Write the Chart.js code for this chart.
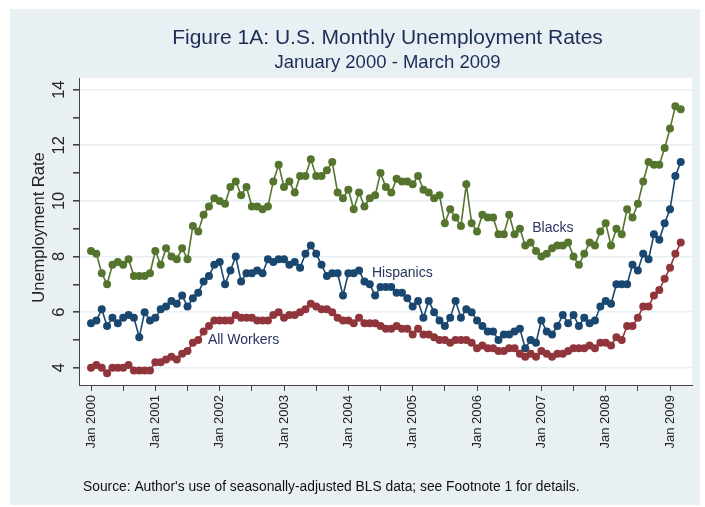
<!DOCTYPE html>
<html>
<head>
<meta charset="utf-8">
<title>Figure 1A</title>
<script src="https://cdn.jsdelivr.net/npm/chart.js@4.4.0/dist/chart.umd.min.js"></script>
<style>
  html, body { margin: 0; padding: 0; background: #ffffff; }
  #myChart { display: block; }
</style>
</head>
<body>
<canvas id="myChart" width="705" height="507"></canvas>
<script>
// dados mensais, jan 2000 ate mar 2009 (111 meses)
const blacks = [
  8.2, 8.1, 7.4, 7.0, 7.7, 7.8, 7.7, 7.9, 7.3, 7.3, 7.3, 7.4,
  8.2, 7.7, 8.3, 8.0, 7.9, 8.3, 7.9, 9.1, 8.9, 9.5, 9.8, 10.1,
  10.0, 9.9, 10.5, 10.7, 10.2, 10.5, 9.8, 9.8, 9.7, 9.8, 10.7, 11.3,
  10.5, 10.7, 10.3, 10.9, 10.9, 11.5, 10.9, 10.9, 11.1, 11.4, 10.3, 10.1,
  10.4, 9.7, 10.3, 9.8, 10.1, 10.2, 11.0, 10.5, 10.3, 10.8, 10.7, 10.7,
  10.6, 10.9, 10.4, 10.3, 10.1, 10.2, 9.2, 9.7, 9.4, 9.1, 10.6, 9.2,
  8.9, 9.5, 9.4, 9.4, 8.8, 8.8, 9.5, 8.8, 9.0, 8.4, 8.5, 8.2,
  8.0, 8.1, 8.3, 8.4, 8.4, 8.5, 8.0, 7.7, 8.1, 8.5, 8.4, 8.9,
  9.2, 8.4, 9.0, 8.8, 9.7, 9.4, 9.9, 10.7, 11.4, 11.3, 11.3, 11.9,
  12.6, 13.4, 13.3
];
const hispanics = [
  5.6, 5.7, 6.1, 5.5, 5.8, 5.6, 5.8, 5.9, 5.8, 5.1, 6.0, 5.7,
  5.8, 6.1, 6.2, 6.4, 6.3, 6.6, 6.2, 6.5, 6.7, 7.1, 7.3, 7.7,
  7.8, 7.0, 7.5, 8.0, 7.1, 7.4, 7.4, 7.5, 7.4, 7.9, 7.8, 7.9,
  7.9, 7.7, 7.8, 7.6, 8.1, 8.4, 8.1, 7.7, 7.3, 7.4, 7.4, 6.6,
  7.4, 7.4, 7.5, 7.1, 7.0, 6.6, 6.9, 6.9, 6.9, 6.7, 6.7, 6.5,
  6.2, 6.4, 5.8, 6.4, 6.0, 5.7, 5.5, 5.8, 6.4, 5.8, 6.1, 6.0,
  5.7, 5.5, 5.3, 5.3, 5.0, 5.2, 5.2, 5.3, 5.4, 4.7, 5.0, 4.9,
  5.7, 5.3, 5.2, 5.5, 5.9, 5.6, 5.9, 5.5, 5.8, 5.6, 5.7, 6.2,
  6.4, 6.3, 7.0, 7.0, 7.0, 7.7, 7.5, 8.1, 7.9, 8.8, 8.6, 9.2,
  9.7, 10.9, 11.4
];
const allWorkers = [
  4.0, 4.1, 4.0, 3.8, 4.0, 4.0, 4.0, 4.1, 3.9, 3.9, 3.9, 3.9,
  4.2, 4.2, 4.3, 4.4, 4.3, 4.5, 4.6, 4.9, 5.0, 5.3, 5.5, 5.7,
  5.7, 5.7, 5.7, 5.9, 5.8, 5.8, 5.8, 5.7, 5.7, 5.7, 5.9, 6.0,
  5.8, 5.9, 5.9, 6.0, 6.1, 6.3, 6.2, 6.1, 6.1, 6.0, 5.8, 5.7,
  5.7, 5.6, 5.8, 5.6, 5.6, 5.6, 5.5, 5.4, 5.4, 5.5, 5.4, 5.4,
  5.2, 5.4, 5.2, 5.2, 5.1, 5.0, 5.0, 4.9, 5.0, 5.0, 5.0, 4.9,
  4.7, 4.8, 4.7, 4.7, 4.6, 4.6, 4.7, 4.7, 4.5, 4.4, 4.5, 4.4,
  4.6, 4.5, 4.4, 4.5, 4.5, 4.6, 4.7, 4.7, 4.7, 4.8, 4.7, 4.9,
  4.9, 4.8, 5.1, 5.0, 5.5, 5.5, 5.8, 6.2, 6.2, 6.6, 6.8, 7.2,
  7.6, 8.1, 8.5
];

// rotulos dos eixos
const xTickLabels = ['Jan 2000', 'Jan 2001', 'Jan 2002', 'Jan 2003', 'Jan 2004',
  'Jan 2005', 'Jan 2006', 'Jan 2007', 'Jan 2008', 'Jan 2009'];
const yTickLabels = [4, 6, 8, 10, 12, 14];

const titulo = 'Figure 1A: U.S. Monthly Unemployment Rates';
const subtitulo = 'January 2000 - March 2009';
const tituloY = 'Unemployment Rate';
const fonte = "Source: Author's use of seasonally-adjusted BLS data; see Footnote 1 for details.";

const FONTE = '"Liberation Sans", Arial, Helvetica, sans-serif';
const COR_FUNDO = '#e9f0f3';

function pontos(serie) {
  return serie.map(function (v, i) { return { x: i, y: v }; });
}

function serieConfig(label, serie, cor) {
  return {
    label: label,
    data: pontos(serie),
    borderColor: cor,
    backgroundColor: cor,
    pointBackgroundColor: cor,
    pointBorderWidth: 0,
    pointRadius: 4,
    borderWidth: 1.6,
    tension: 0,
    fill: false
  };
}

// fundo da figura e area branca do grafico
const fundoPlugin = {
  id: 'fundo',
  beforeDraw(chart) {
    const ctx = chart.ctx;
    const a = chart.chartArea;
    ctx.save();
    ctx.fillStyle = '#ffffff';
    ctx.fillRect(0, 0, chart.width, chart.height);
    ctx.fillStyle = COR_FUNDO;
    ctx.fillRect(10, 9, 690, 496);
    ctx.fillStyle = '#ffffff';
    ctx.fillRect(a.left, a.top, a.right - a.left, a.bottom - a.top);
    ctx.restore();
  }
};

// textos: titulos, rotulos do eixo y, nomes das series, fonte
const textosPlugin = {
  id: 'textos',
  afterDraw(chart) {
    const ctx = chart.ctx;
    const a = chart.chartArea;
    const sx = chart.scales.x;
    const sy = chart.scales.y;
    const meio = (a.left + a.right) / 2;

    ctx.save();
    ctx.textAlign = 'center';
    ctx.textBaseline = 'middle';
    ctx.fillStyle = '#1c2c58';
    ctx.font = '21px ' + FONTE;
    ctx.fillText(titulo, meio + 2, 38);
    ctx.font = '18.5px ' + FONTE;
    ctx.fillText(subtitulo, meio + 2, 63);

    ctx.fillStyle = '#222222';
    ctx.font = '16.5px ' + FONTE;
    yTickLabels.forEach(function (v) {
      ctx.save();
      ctx.translate(59, sy.getPixelForValue(v));
      ctx.rotate(-Math.PI / 2);
      ctx.fillText(String(v), 0, 0);
      ctx.restore();
    });

    ctx.font = '16.5px ' + FONTE;
    ctx.save();
    ctx.translate(39, (a.top + a.bottom) / 2 - 4);
    ctx.rotate(-Math.PI / 2);
    ctx.fillText(tituloY, 0, 0);
    ctx.restore();

    ctx.textAlign = 'left';
    ctx.fillStyle = '#28335f';
    ctx.font = '14px ' + FONTE;
    ctx.fillText('Blacks', sx.getPixelForValue(82.3), sy.getPixelForValue(9.03));
    ctx.fillText('Hispanics', sx.getPixelForValue(52.4), sy.getPixelForValue(7.41));
    ctx.fillText('All Workers', sx.getPixelForValue(21.8), sy.getPixelForValue(5.0));

    ctx.fillStyle = '#111111';
    ctx.font = '13.8px ' + FONTE;
    ctx.fillText(fonte, 83, 487);
    ctx.restore();
  }
};

const dados = {
  datasets: [
    serieConfig('Blacks', blacks, '#55752f'),
    serieConfig('All Workers', allWorkers, '#90353b'),
    serieConfig('Hispanics', hispanics, '#1a476f')
  ]
};

const config = {
  type: 'line',
  data: dados,
  options: {
    responsive: false,
    animation: false,
    devicePixelRatio: 1,
    layout: { padding: { left: 0, top: 78, right: 13, bottom: 0 } },
    plugins: {
      legend: { display: false },
      title: { display: false },
      tooltip: { enabled: false }
    },
    scales: {
      x: {
        type: 'linear',
        min: -2.24,
        max: 112.1,
        afterBuildTicks(scale) {
          const t = [];
          for (let m = 0; m <= 108; m += 6) t.push({ value: m });
          scale.ticks = t;
        },
        afterFit(scale) { scale.height = 122; },
        border: { display: true, color: '#444444', width: 1 },
        grid: {
          display: true,
          drawOnChartArea: false,
          drawTicks: true,
          tickLength: 6,
          tickColor: '#444444'
        },
        ticks: {
          autoSkip: false,
          minRotation: 90,
          maxRotation: 90,
          padding: 4,
          color: '#222222',
          font: { family: FONTE, size: 13 },
          callback: function (v) {
            return v % 12 === 0 ? xTickLabels[v / 12] : '';
          }
        }
      },
      y: {
        type: 'linear',
        min: 3.38,
        max: 14.42,
        afterBuildTicks(scale) {
          const t = [];
          for (let v = 4; v <= 14; v++) t.push({ value: v });
          scale.ticks = t;
        },
        afterFit(scale) { scale.width = 79; },
        border: { display: true, color: '#444444', width: 1 },
        grid: {
          display: true,
          drawTicks: true,
          tickLength: 6,
          tickColor: '#444444',
          lineWidth: 1.6,
          color: function (c) {
            return c.tick && c.tick.value % 2 === 0 ? COR_FUNDO : 'rgba(0,0,0,0)';
          }
        },
        ticks: { display: false }
      }
    }
  },
  plugins: [fundoPlugin, textosPlugin]
};

let myChart = new Chart(document.getElementById('myChart'), config);
</script>
</body>
</html>
